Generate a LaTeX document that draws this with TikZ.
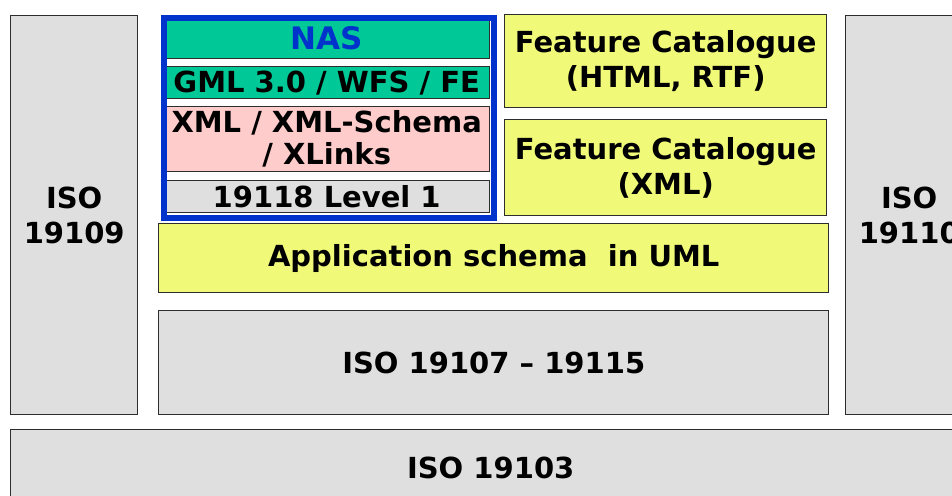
\documentclass[tikz,border=0pt]{standalone}
\usepackage{fontspec}
\setmainfont{DejaVu Sans}
\usepackage{tikz}
\usetikzlibrary{positioning}
\definecolor{boxgray}{RGB}{223,223,223}
\definecolor{boxyellow}{RGB}{240,250,120}
\definecolor{nasgreen}{RGB}{0,200,150}
\definecolor{naspink}{RGB}{255,204,204}
\definecolor{nasblue}{RGB}{0,51,204}
\definecolor{edgegray}{RGB}{45,45,45}

\begin{document}
\begin{tikzpicture}[x=1pt, y=-1pt,
    layer/.style={draw=edgegray, line width=1.4pt, anchor=north west, inner sep=0pt,
        align=center, font=\bfseries\fontsize{29}{35}\selectfont},
    isobox/.style={layer, fill=boxgray},
    umlbox/.style={layer, fill=boxyellow}]
    \clip (0,0) rectangle (952,495);
    \fill[white] (0,0) rectangle (952,495);

    % ISO columns and base
    \node[isobox, minimum width=127pt, minimum height=399pt] (iso19109) at (10,15) {ISO\\19109};
    \node[isobox, minimum width=127pt, minimum height=399pt] (iso19110) at (845,15) {ISO\\19110};
    \node[isobox, minimum width=960pt, minimum height=76pt] (iso19103) at (10,429) {ISO 19103};
    \node[isobox, minimum width=670pt, minimum height=104pt] (iso19107) at (158,310) {ISO 19107 -- 19115};

    % application schema and catalogues
    \node[umlbox, minimum width=670pt, minimum height=69pt] (appschema) at (158,223) {Application schema\ \ in UML};
    \node[umlbox, minimum width=322pt, minimum height=93pt] (fchtml) at (504,14) {Feature Catalogue\\(HTML, RTF)};
    \node[umlbox, minimum width=322pt, minimum height=96pt] (fcxml) at (504,119) {Feature Catalogue\\(XML)};

    % NAS stack
    \node[layer, fill=nasgreen, minimum width=326pt, minimum height=40pt, text=nasblue,
        font=\bfseries\fontsize{31}{35}\selectfont] (nas) at (163,18) {NAS};
    \node[layer, fill=nasgreen, minimum width=326pt, minimum height=32pt] (gml) at (163,66) {\makebox[0pt]{GML 3.0 / WFS / FE}};
    \node[layer, fill=naspink, minimum width=326pt, minimum height=65pt,
        font=\bfseries\fontsize{29}{32}\selectfont] (xmlschema) at (163,106) {XML / XML-Schema\\/ XLinks};
    \node[isobox, minimum width=326pt, minimum height=32pt] (level1) at (163,180) {19118 Level 1};
    \node[draw=nasblue, line width=6pt, anchor=north west, inner sep=0pt,
        minimum width=330pt, minimum height=200pt] (nasframe) at (161,15) {};
\end{tikzpicture}
\end{document}
